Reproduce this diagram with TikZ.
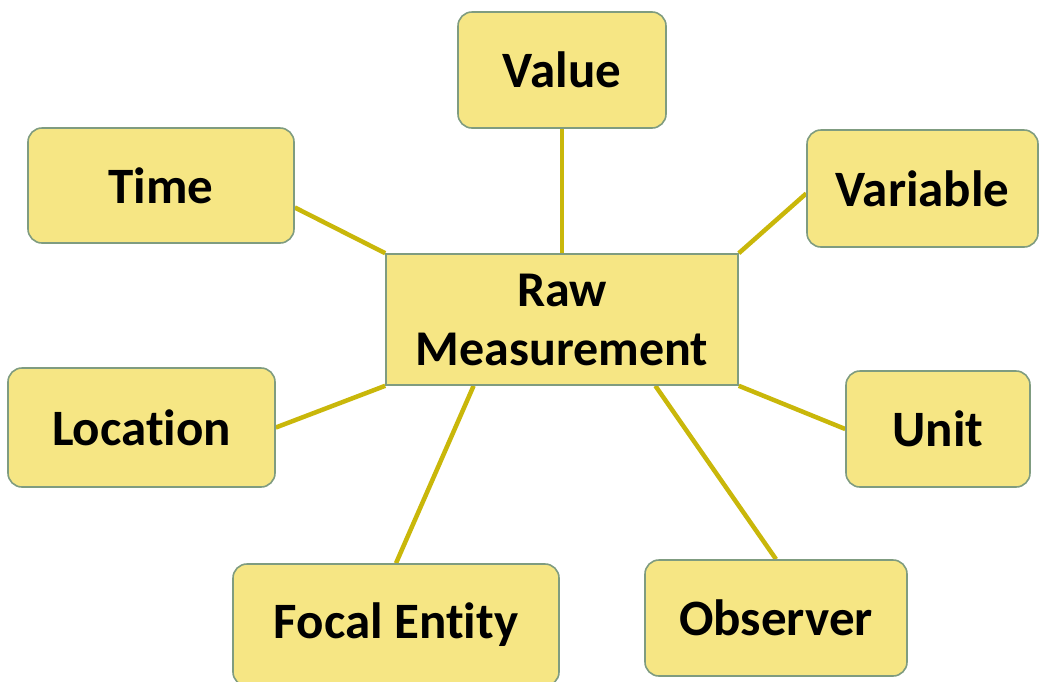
\documentclass[tikz,border=0pt]{standalone}
\usepackage{fontspec}
\setmainfont{Carlito}[Ligatures=NoCommon]
\usetikzlibrary{calc,backgrounds}
\definecolor{boxfill}{HTML}{F6E684}
\definecolor{boxline}{HTML}{7F9C80}
\definecolor{linkcol}{HTML}{C9B70A}
\tikzset{
  leaf/.style={draw=boxline, line width=1.6pt, fill=boxfill, rounded corners=14pt, font=\bfseries\fontsize{51}{60}\selectfont, inner sep=0pt, anchor=center},
  hub/.style={draw=boxline, line width=1.6pt, fill=boxfill, font=\bfseries\fontsize{50}{59}\selectfont, inner sep=0pt, align=center},
  link/.style={draw=linkcol, line width=4.5pt}
}
\begin{document}
\begin{tikzpicture}[x=1pt,y=-1pt]
\useasboundingbox (0,0) rectangle (1041,681);
\node[hub, minimum width=352pt, minimum height=131pt] (raw) at (562,319.5) {Raw\\Measurement};
\node[leaf, minimum width=208pt, minimum height=116pt] (value) at (562,70) {Value};
\node[leaf, minimum width=266pt, minimum height=115pt] (time) at (161,185.5) {Time};
\node[leaf, minimum width=231pt, minimum height=117pt] (var) at (922.5,188.5) {Variable};
\node[leaf, minimum width=267pt, minimum height=119pt] (loc) at (141.5,427.5) {Location};
\node[leaf, minimum width=184pt, minimum height=116pt] (unit) at (938,429) {Unit};
\node[leaf, minimum width=326pt, minimum height=122pt] (focal) at (396,625) {Focal Entity};
\node[leaf, minimum width=262pt, minimum height=116pt] (obs) at (776,618) {Observer};
\begin{scope}[on background layer]
\draw[link] (raw.north) -- (value.south);
\draw[link] ($(time.east)+(0,22)$) -- (raw.north west);
\draw[link] ($(var.west)+(0,5)$) -- (raw.north east);
\draw[link] (loc.east) -- (raw.south west);
\draw[link] (unit.west) -- (raw.south east);
\draw[link] (focal.north) -- ($(raw.south west)!0.25!(raw.south east)$);
\draw[link] (obs.north) -- ($(raw.south west)!0.764!(raw.south east)$);
\end{scope}
\end{tikzpicture}
\end{document}
